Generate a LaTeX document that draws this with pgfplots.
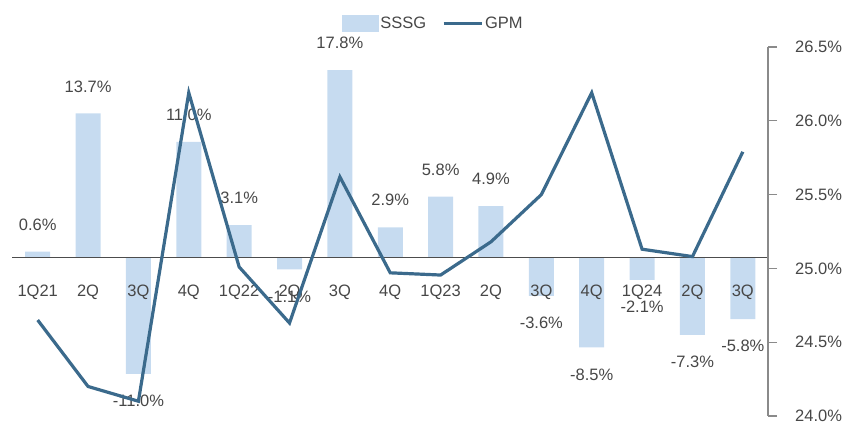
\documentclass[border=0pt]{standalone}
\usepackage{pgfplots}
\pgfplotsset{compat=1.18}
\usepackage{fontspec}
\setmainfont{Liberation Sans}
\definecolor{barblue}{HTML}{C6DBF0}
\definecolor{linecol}{HTML}{3B6A8C}
\definecolor{txt}{HTML}{474747}
\definecolor{axgray}{HTML}{8A8A8A}
\newcommand\lbl{\fontsize{16.5}{19}\selectfont}
\begin{document}
\begin{tikzpicture}
\path[use as bounding box] (-12.5pt,-9pt) rectangle (849.5pt,416pt);
\begin{axis}[
  scale only axis, width=755.5pt, height=369pt,
  xmin=-0.5, xmax=14.5, ymin=-15, ymax=20,
  axis y line=none, axis x line*=middle, axis on top,
  x axis line style={draw=black!70, line width=1pt},
  xtick={0,...,14},
  xticklabels={1Q21,2Q,3Q,4Q,1Q22,2Q,3Q,4Q,1Q23,2Q,3Q,4Q,1Q24,2Q,3Q},
  major tick length=0pt,
  xticklabel style={anchor=north, inner sep=0pt, yshift=-27pt, font=\lbl, text=txt},
  ybar, bar width=25pt, bar shift=0pt,
  nodes near coords, point meta=explicit symbolic,
  every node near coord/.append style={font=\lbl, text=txt, inner xsep=0pt, inner ysep=21pt},
  clip=false,
]
\addplot[fill=barblue, draw=none,
  every node near coord/.append style={anchor=south}] coordinates {
  (0,0.6) [0.6\%]
  (1,13.7) [13.7\%]
  (3,11.0) [11.0\%]
  (4,3.1) [3.1\%]
  (6,17.8) [17.8\%]
  (7,2.9) [2.9\%]
  (8,5.8) [5.8\%]
  (9,4.9) [4.9\%]
};
\addplot[fill=barblue, draw=none,
  every node near coord/.append style={anchor=north}] coordinates {
  (2,-11.0) [-11.0\%]
  (5,-1.1) [-1.1\%]
  (10,-3.6) [-3.6\%]
  (11,-8.5) [-8.5\%]
  (12,-2.1) [-2.1\%]
  (13,-7.3) [-7.3\%]
  (14,-5.8) [-5.8\%]
};
\end{axis}
\begin{axis}[
  scale only axis, width=755.5pt, height=369pt,
  xmin=-0.5, xmax=14.5, ymin=24, ymax=26.5,
  axis x line=none, axis y line*=right,
  y axis line style={draw=axgray, line width=1.2pt},
  ytick={24,24.5,25,25.5,26,26.5},
  tick align=outside, major tick length=9pt,
  every tick/.style={draw=axgray, line width=1.2pt},
  /pgf/number format/assume math mode=true,
  yticklabel={\pgfmathprintnumber[fixed,fixed zerofill,precision=1]{\tick}\%},
  yticklabel style={font=\lbl, text=txt, anchor=west, inner sep=0pt, xshift=18pt},
  clip=false,
  legend style={draw=none, fill=none, at={(0.557,1.065)}, anchor=center,
    font=\lbl, text=txt, legend columns=2,
    /tikz/every even column/.append style={column sep=14pt},
    cells={anchor=west}},
]
\addlegendimage{legend image code/.code={\fill[barblue] (0pt,-8pt) rectangle (36pt,8pt);}}
\addlegendentry{SSSG}
\addplot[linecol, line width=3.2pt, line join=miter,
  legend image code/.code={\draw[linecol, line width=3pt] (0pt,0pt) -- (38pt,0pt);}]
  coordinates {
  (0,24.65) (1,24.20) (2,24.10) (3,26.19) (4,25.01) (5,24.63) (6,25.62) (7,24.97)
  (8,24.955) (9,25.18) (10,25.50) (11,26.19) (12,25.13) (13,25.08) (14,25.79)
};
\addlegendentry{GPM}
\end{axis}
\end{tikzpicture}
\end{document}
